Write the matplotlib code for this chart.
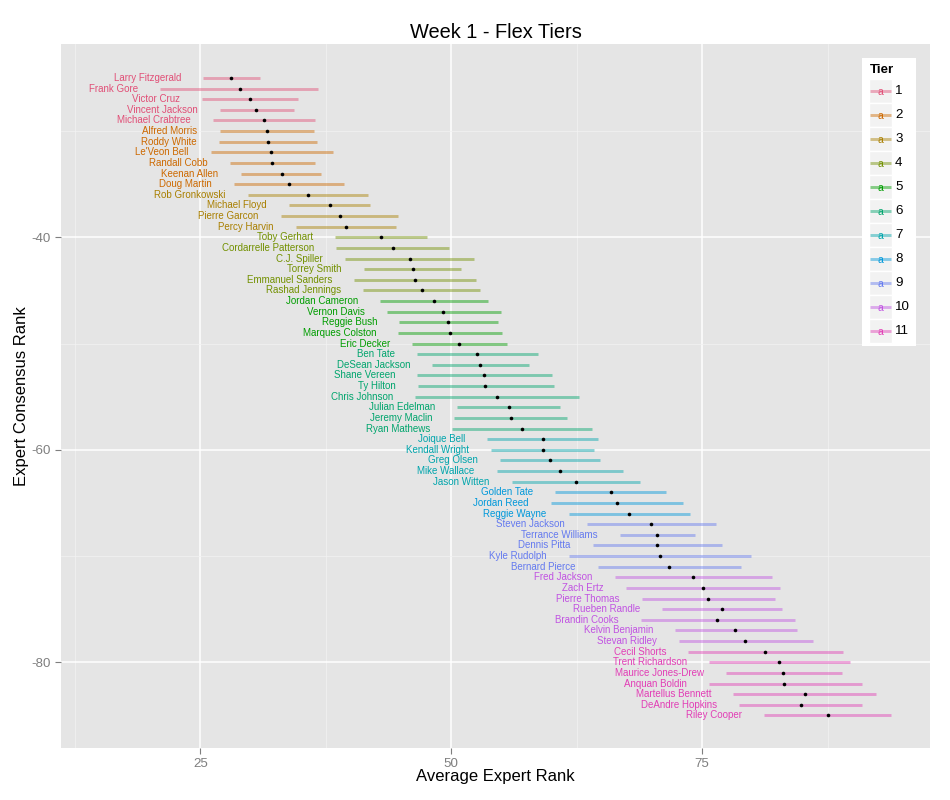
import numpy as np
import matplotlib
matplotlib.use("Agg")
import matplotlib.pyplot as plt
from matplotlib.patches import Rectangle

plt.rcParams['font.family'] = ['Liberation Sans', 'DejaVu Sans']
plt.rcParams['axes.unicode_minus'] = False

# data
players = ["Larry Fitzgerald", "Frank Gore", "Victor Cruz", "Vincent Jackson", "Michael Crabtree",
           "Alfred Morris", "Roddy White", "Le'Veon Bell", "Randall Cobb", "Keenan Allen", "Doug Martin",
           "Rob Gronkowski", "Michael Floyd", "Pierre Garcon", "Percy Harvin",
           "Toby Gerhart", "Cordarrelle Patterson", "C.J. Spiller", "Torrey Smith", "Emmanuel Sanders",
           "Rashad Jennings",
           "Jordan Cameron", "Vernon Davis", "Reggie Bush", "Marques Colston", "Eric Decker",
           "Ben Tate", "DeSean Jackson", "Shane Vereen", "Ty Hilton", "Chris Johnson", "Julian Edelman",
           "Jeremy Maclin", "Ryan Mathews",
           "Joique Bell", "Kendall Wright", "Greg Olsen", "Mike Wallace", "Jason Witten",
           "Golden Tate", "Jordan Reed", "Reggie Wayne",
           "Steven Jackson", "Terrance Williams", "Dennis Pitta", "Kyle Rudolph", "Bernard Pierce",
           "Fred Jackson", "Zach Ertz", "Pierre Thomas", "Rueben Randle", "Brandin Cooks",
           "Kelvin Benjamin", "Stevan Ridley",
           "Cecil Shorts", "Trent Richardson", "Maurice Jones-Drew", "Anquan Boldin",
           "Martellus Bennett", "DeAndre Hopkins", "Riley Cooper"]

rank = [25, 26, 27, 28, 29, 30, 31, 32, 33, 34, 35, 36, 37, 38, 39, 40, 41, 42, 43, 44, 45,
        46, 47, 48, 49, 50, 51, 52, 53, 54, 55, 56, 57, 58, 59, 60, 61, 62, 63, 64, 65, 66,
        67, 68, 69, 70, 71, 72, 73, 74, 75, 76, 77, 78, 79, 80, 81, 82, 83, 84, 85]

tier = [1, 1, 1, 1, 1,
        2, 2, 2, 2, 2, 2,
        3, 3, 3, 3,
        4, 4, 4, 4, 4, 4,
        5, 5, 5, 5, 5,
        6, 6, 6, 6, 6, 6, 6, 6,
        7, 7, 7, 7, 7,
        8, 8, 8,
        9, 9, 9, 9, 9,
        10, 10, 10, 10, 10, 10, 10,
        11, 11, 11, 11, 11, 11, 11]

avg = [28.0, 28.9, 29.9, 30.5, 31.3, 31.6, 31.7, 32.0, 32.1, 33.1, 33.8,
       35.7, 37.9, 38.9, 39.5, 43.0, 44.2, 45.9, 46.2, 46.4, 47.1,
       48.3, 49.2, 49.7, 49.9, 50.8, 52.6, 52.9, 53.3, 53.4, 54.5, 55.7,
       55.9, 57.0, 59.1, 59.1, 59.8, 60.8, 62.4, 65.9, 66.5, 67.7,
       69.9, 70.5, 70.5, 70.8, 71.7, 74.1, 75.1, 75.6, 77.0, 76.5,
       78.3, 79.3, 81.3, 82.7, 83.1, 83.2, 85.2, 84.8, 87.5]

low = [25.3, 21.0, 25.2, 26.9, 26.2, 26.9, 26.8, 26.0, 27.9, 29.0, 28.3,
       29.7, 33.8, 33.0, 34.5, 38.4, 38.5, 39.4, 41.3, 40.3, 41.2,
       42.9, 43.6, 44.8, 44.7, 46.1, 46.6, 48.1, 46.6, 46.7, 46.4, 50.6,
       50.3, 50.1, 53.6, 54.0, 54.8, 54.5, 56.0, 60.3, 59.9, 61.7,
       63.5, 66.8, 64.1, 61.7, 64.6, 66.3, 67.4, 69.0, 71.0, 68.9,
       72.3, 72.7, 73.6, 75.7, 77.4, 75.7, 78.1, 78.7, 81.2]

high = [30.9, 36.7, 34.7, 34.3, 36.4, 36.3, 36.6, 38.2, 36.4, 37.0, 39.3,
        41.7, 41.9, 44.7, 44.5, 47.6, 49.8, 52.3, 51.0, 52.5, 52.9,
        53.7, 54.9, 54.6, 55.0, 55.5, 58.6, 57.7, 60.0, 60.2, 62.7, 60.8,
        61.5, 64.0, 64.6, 64.2, 64.8, 67.1, 68.8, 71.4, 73.1, 73.8,
        76.4, 74.3, 77.0, 79.9, 78.9, 82.0, 82.8, 82.3, 83.0, 84.2,
        84.4, 86.0, 89.0, 89.7, 88.9, 90.9, 92.3, 90.9, 93.8]

tiers = [1, 2, 3, 4, 5, 6, 7, 8, 9, 10, 11]


def hcl_hex(h, c, l):
    # polar Luv -> sRGB, like R's hcl()
    hr = np.deg2rad(h)
    u = c * np.cos(hr)
    v = c * np.sin(hr)
    Xn, Yn, Zn = 95.047, 100.0, 108.883
    den = Xn + 15 * Yn + 3 * Zn
    un, vn = 4 * Xn / den, 9 * Yn / den
    Y = Yn * ((l + 16) / 116) ** 3
    up = u / (13 * l) + un
    vp = v / (13 * l) + vn
    X = Y * 9 * up / (4 * vp)
    Z = Y * (12 - 3 * up - 20 * vp) / (4 * vp)
    X, Y, Z = X / 100, Y / 100, Z / 100
    rgb = np.array([3.2404542 * X - 1.5371385 * Y - 0.4985314 * Z,
                    -0.9692660 * X + 1.8760108 * Y + 0.0415560 * Z,
                    0.0556434 * X - 0.2040259 * Y + 1.0572252 * Z])
    rgb = np.where(rgb > 0.0031308, 1.055 * np.abs(rgb) ** (1 / 2.4) - 0.055, 12.92 * rgb)
    rgb = np.clip(rgb, 0, 1)
    return '#%02x%02x%02x' % tuple(int(round(x * 255)) for x in rgb)


pal = [hcl_hex(h, 100, 55) for h in np.linspace(0, 360, 12)[:11]]

fig = plt.figure(figsize=(9.5, 8), dpi=100)
W, H = 950.0, 800.0
ax = fig.add_axes([61 / W, 1 - 748.3 / H, (930 - 61) / W, (748.3 - 44) / H])
ax.set_facecolor('#E5E5E5')
for s in ax.spines.values():
    s.set_visible(False)

ax.set_xlim(11.1, 97.7)
ax.set_ylim(-88.1, -21.8)
ax.set_xticks([25, 50, 75])
ax.set_xticks([12.5, 37.5, 62.5, 87.5], minor=True)
ax.set_yticks([-80, -60, -40])
ax.set_yticks([-70, -50, -30], minor=True)
ax.grid(which='major', color='white', linewidth=1.1)
ax.grid(which='minor', color='#F2F2F2', linewidth=0.55)
ax.set_axisbelow(True)
ax.tick_params(which='major', length=4.3, width=0.8, color='#7F7F7F',
               labelcolor='#7F7F7F', labelsize=9.6, pad=3)
ax.tick_params(which='minor', length=0)

for i in range(len(players)):
    col = pal[tier[i] - 1]
    y = -rank[i]
    ax.plot([low[i], high[i]], [y, y], color=col, alpha=0.45, linewidth=2.1,
            solid_capstyle='butt', zorder=2)
    ax.plot([avg[i]], [y], 'o', color='black', markersize=2.6, markeredgewidth=0, zorder=3)
    ax.text(low[i] - 2.2, y, players[i], color=col, fontsize=7, ha='right', va='center', zorder=4)

fig.text(495.5 / W, 1 - 33 / H, 'Week 1 - Flex Tiers', fontsize=14.4, ha='center', va='center')
fig.text(495.5 / W, 1 - 777 / H, 'Average Expert Rank', fontsize=12, ha='center', va='center')
fig.text(22 / W, 1 - 396 / H, 'Expert Consensus Rank', fontsize=12, ha='center', va='center',
         rotation=90)

# legend drawn by hand in pixel units
leg = fig.add_axes([862 / W, 1 - 346 / H, 54 / W, 288 / H])
leg.set_xlim(862, 916)
leg.set_ylim(346, 58)
leg.axis('off')
leg.add_patch(Rectangle((862, 58), 54, 288, facecolor='white', edgecolor='none'))
leg.text(870, 70, 'Tier', fontsize=9.6, fontweight='bold', ha='left', va='center')
for i, t in enumerate(tiers):
    cy = 91.3 + 24 * i
    col = pal[i]
    leg.add_patch(Rectangle((869, cy - 12), 23, 24, facecolor='#F2F2F2', edgecolor='white',
                            linewidth=1))
    leg.plot([869.5, 891], [cy, cy], color=col, alpha=0.45, linewidth=2.1, solid_capstyle='butt')
    leg.text(880.5, cy + 0.5, 'a', color=col, fontsize=7.5, ha='center', va='center')
    leg.text(895, cy, str(t), fontsize=9.6, ha='left', va='center')

fig.savefig('out.png', dpi=100)
